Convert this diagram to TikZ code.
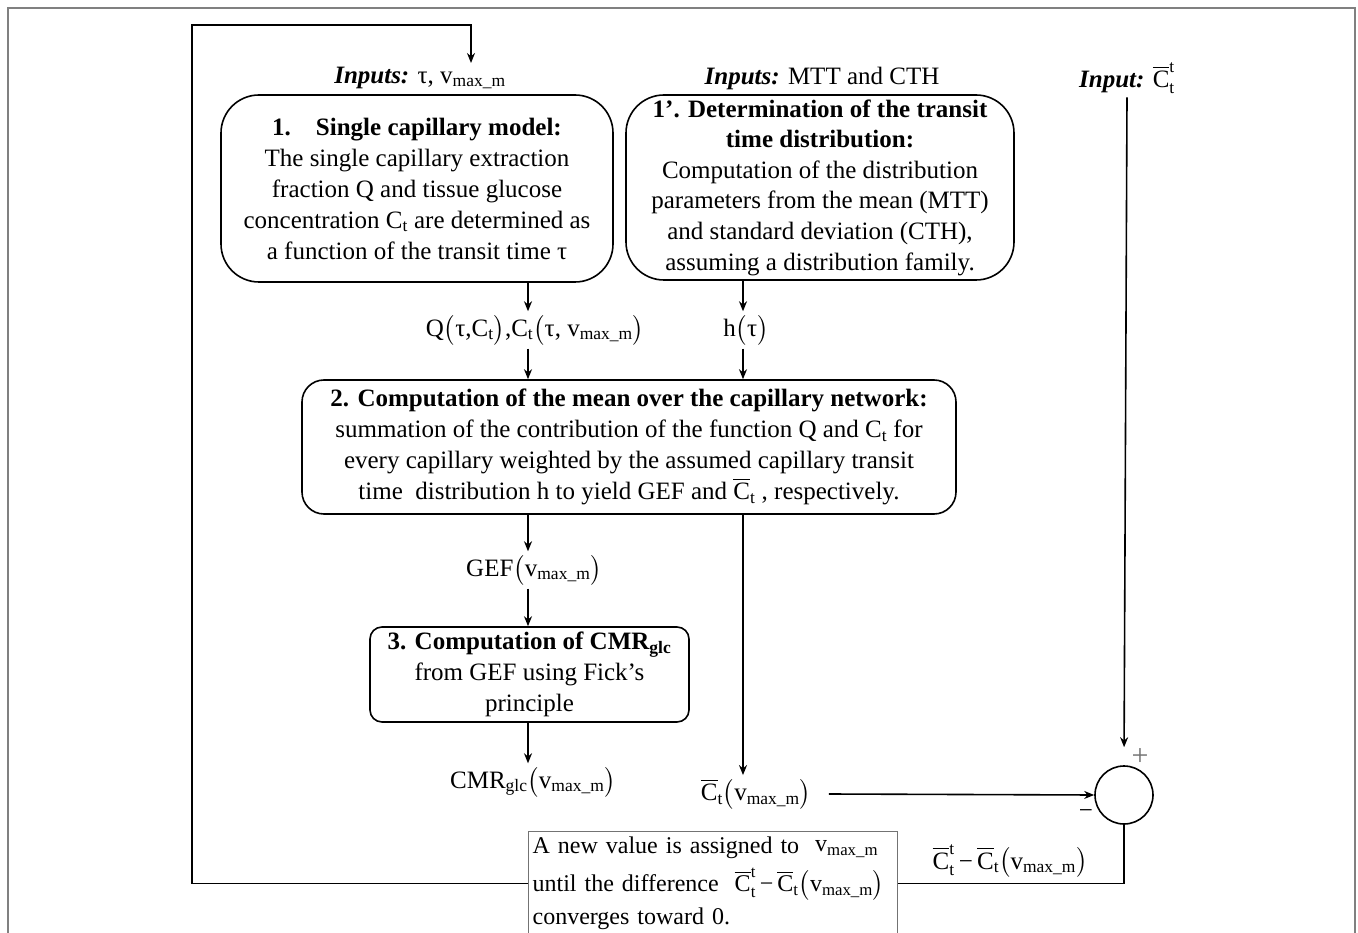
\documentclass[tikz,border=0pt]{standalone}
\usepackage{amsmath}
\usepackage{fontspec}
\setmainfont{Liberation Serif}
\usetikzlibrary{arrows.meta}

\newcommand{\vmaxm}{v\textsubscript{max\_m}}
\newcommand{\Ct}{$\overline{\text{C}}_{\text{t}}$}
\newcommand{\Ctt}{$\overline{\text{C}}^{\text{t}}_{\text{t}}$}

\begin{document}
\begin{tikzpicture}[
    x=1pt, y=-1pt,
    line width=1.6pt,
    font=\fontsize{25}{31}\selectfont,
    roundbox/.style={draw, align=center, inner sep=2pt},
    sig/.style={inner sep=3pt},
    notebox/.style={draw=black!55, line width=1.2pt, align=left, inner xsep=4pt, inner ysep=3pt, font=\fontsize{24}{33}\selectfont},
    >={Stealth[length=10pt,width=8pt]}
]
\clip (0,0) rectangle (1358,933);
% Frame
\draw[black!50, line width=1.3pt] (8,960) -- (8,8) -- (1355,8) -- (1355,960);

% Inputs
\node[sig] (in1) at (420,78) {\textbf{\textit{Inputs:}} τ, \vmaxm};
\node[sig] (in2) at (822,78) {\textbf{\textit{Inputs:}} MTT and CTH};
\node[sig] (in3) at (1127,78) {\textbf{\textit{Input:}} \Ctt};

% Boxes
\node[roundbox, rounded corners=38pt, minimum width=392, minimum height=187] (box1) at (417,188.5)
    {\textbf{1.\quad Single capillary model:}\\
     The single capillary extraction\\
     fraction Q and tissue glucose\\
     concentration C\textsubscript{t} are determined as\\
     a function of the transit time τ};
\node[roundbox, rounded corners=38pt, minimum width=388, minimum height=185,
      font=\fontsize{25}{30.6}\selectfont] (box1p) at (820,187.5)
    {\textbf{1’. Determination of the transit}\\
     \textbf{time distribution:}\\
     Computation of the distribution\\
     parameters from the mean (MTT)\\
     and standard deviation (CTH),\\
     assuming a distribution family.};
\node[roundbox, rounded corners=22pt, minimum width=654, minimum height=134] (box2) at (629,447)
    {\textbf{2. Computation of the mean over the capillary network:}\\
     summation of the contribution of the function Q and C\textsubscript{t} for\\
     every capillary weighted by the assumed capillary transit\\
     time\ \ distribution h to yield GEF and \Ct\ , respectively.};
\node[roundbox, rounded corners=12pt, minimum width=319, minimum height=95] (box3) at (529.5,674.5)
    {\textbf{3. Computation of CMR\textsubscript{glc}}\\
     from GEF using Fick’s\\
     principle};

% Signals
\node[sig] (qlbl) at (535,330) {Q$\bigl($τ,C\textsubscript{t}$\bigr)$,C\textsubscript{t}$\bigl($τ, \vmaxm$\bigr)$};
\node[sig] (hlbl) at (746,330) {h$\bigl($τ$\bigr)$};
\node[sig] (geflbl) at (534,570) {GEF$\bigl($\vmaxm$\bigr)$};
\node[sig] (cmrlbl) at (533,782) {CMR\textsubscript{glc}$\bigl($\vmaxm$\bigr)$};
\node[sig] (ctlbl) at (756,794) {\Ct$\bigl($\vmaxm$\bigr)$};
\node[sig] (difflbl) at (1010,861) {\Ctt\,−\,\Ct$\bigl($\vmaxm$\bigr)$};

% Comparator
\node[circle, draw, minimum size=58, inner sep=0pt] (sum) at (1124,795) {};
\node[text=black!55, font=\fontsize{30}{30}\selectfont] (plus) at ([xshift=16pt,yshift=38pt]sum.center) {+};
\node (minus) at ([xshift=-38pt,yshift=-19pt]sum.center) {−};

% Update box
\node[notebox, anchor=north west, text width=361, minimum height=104] (newval) at (528,831)
    {\raggedright A new value is assigned to \ \raisebox{2pt}{\vmaxm}\\[5pt]
     until the difference \ \Ctt\,−\,\Ct$\bigl($\vmaxm$\bigr)$\\
     converges toward 0.};

% Columns
\coordinate (colA) at (528,0);
\coordinate (colB) at (743,0);

% Connections
\draw[->] (box1.south -| colA) -- (qlbl.north -| colA);
\draw[->] (qlbl.south -| colA) -- (box2.north -| colA);
\draw[->] (box1p.south -| colB) -- (hlbl.north -| colB);
\draw[->] (hlbl.south -| colB) -- (box2.north -| colB);
\draw[->] (box2.south -| colA) -- (geflbl.north -| colA);
\draw[->] (geflbl.south -| colA) -- (box3.north -| colA);
\draw[->] (box3.south -| colA) -- (cmrlbl.north -| colA);
\draw[->] (box2.south -| colB) -- (ctlbl.north -| colB);
\draw[->] ([xshift=14pt]ctlbl.east) -- (sum.west);
\draw[->, shorten >=18pt] (in3.south) -- (sum.north);

% Feedback loop
\coordinate (loop) at (192,25);
\draw (sum.south) |- (newval.east);
\draw[->] (newval.west) -| (loop) -| ([xshift=51pt]in1.north);
\end{tikzpicture}
\end{document}
